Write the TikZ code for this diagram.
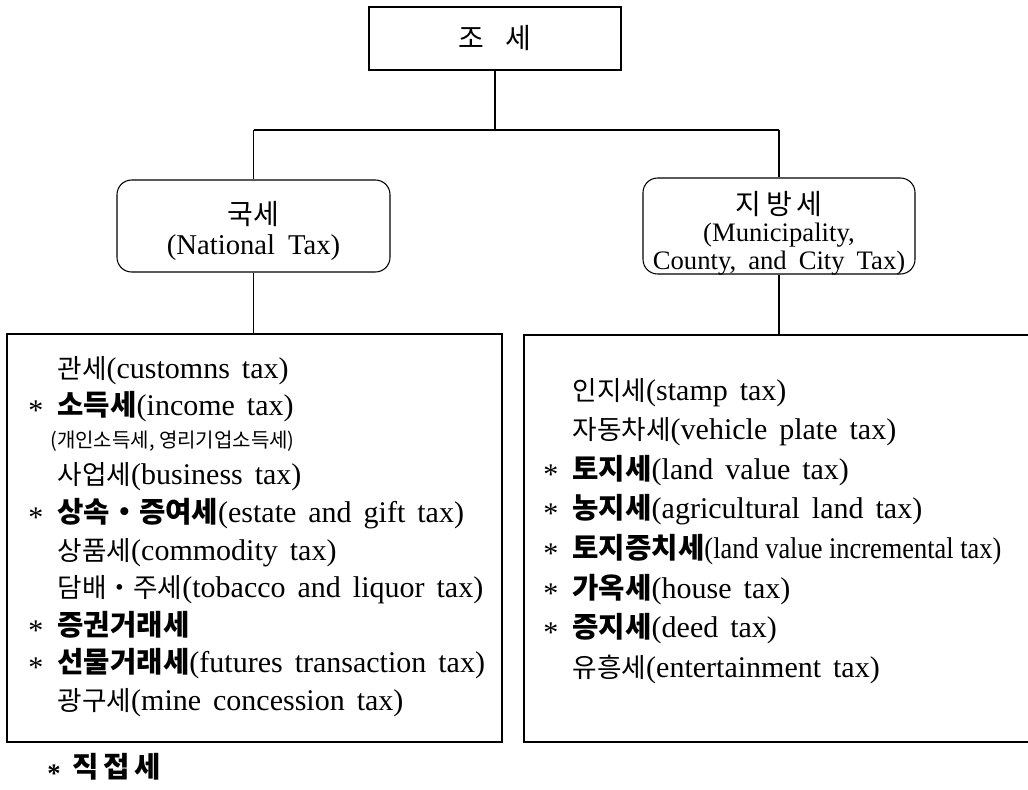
\documentclass[tikz,border=0pt]{standalone}
\usepackage{fontspec}
\usepackage{graphicx}
\setmainfont{Liberation Serif}
\newfontfamily\krfont{Noto Sans CJK KR}
\newcommand\K[1]{{\krfont\fontsize{20}{22}\selectfont #1}}
\newcommand\KB[1]{{\krfont\bfseries\fontsize{21.5}{23}\selectfont #1}}
\newcommand\KS[1]{{\krfont\fontsize{15}{17}\selectfont #1}}
\newcommand\KL[1]{{\krfont\fontsize{21}{22}\selectfont #1}}
\newcommand\mystar{\makebox[22pt][l]{\raisebox{-0.17em}{*}}}
\newcommand\myblank{\hspace*{22pt}}
\newcommand\wsp{\spaceskip=0.4em\relax}
\newcommand\gap{\hspace{0.45em}}
\tikzset{
  box/.style={draw, line width=0.8pt, inner sep=0pt},
  rbox/.style={box, rounded corners=11pt},
  lbl/.style={align=center, inner sep=0pt},
  conn/.style={line width=0.8pt},
  item/.style={anchor=base west, inner sep=0pt, font=\fontsize{22.5}{24}\selectfont},
}
\begin{document}
\begin{tikzpicture}[x=0.75pt,y=-0.75pt]
\useasboundingbox (0,0) rectangle (1028,789);
\clip (0,0) rectangle (1028,789);
\fill[white] (0,0) rectangle (1028,789);

% top box
\node[box, minimum width=189pt, minimum height=47.25pt] (top) at (495,38.5) {\KL{조\hspace{0.75em}세}};

% label boxes
\node[rbox, minimum width=204.75pt, minimum height=69pt] (natl) at (253.5,226) {};
\node[lbl, font=\fontsize{21.5}{22}\selectfont] (natlT) at (253.5,231) {\KL{국세}\\(National\gap Tax)};
\node[rbox, minimum width=204pt, minimum height=72pt] (loc) at (779,226) {};
\node[lbl, font=\fontsize{20}{20.7}\selectfont] (locT) at (779,233) {\KL{지\,방\,세}\\(Municipality,\\County,\gap and\gap City\gap Tax)};

% list boxes
\node[box, minimum width=371.25pt, minimum height=306pt] (natlist) at (254.5,538) {};
\node[box, minimum width=382.5pt, minimum height=305.25pt] (loclist) at (779,538.5) {};

% connectors
\coordinate (barL) at (253.5,130);
\coordinate (barR) at (779,130);
\draw[conn] (top.south) -- (top.south |- barL);
\draw[conn] (barL) -- (barR);
\draw[conn] (barL) -- (natl.north);
\draw[conn] (barR) -- (loc.north);
\draw[conn] (natl.south) -- (natl.south |- natlist.north);
\draw[conn] (loc.south) -- (loc.south |- loclist.north);

% national list
\node[item] (n1) at (28,378) {\wsp\myblank\K{관세}(customns tax)};
\node[item] (n2) at (28,415) {\wsp\mystar\KB{소득세}(income tax)};
\node[item] (n3) at (28,447) {\hspace*{16.5pt}\KS{(개인소득세, 영리기업소득세)}};
\node[item] (n4) at (28,484) {\wsp\myblank\K{사업세}(business tax)};
\node[item] (n5) at (28,522) {\wsp\mystar\KB{상속・증여세}(estate and gift tax)};
\node[item] (n6) at (28,560) {\wsp\myblank\K{상품세}(commodity tax)};
\node[item] (n7) at (28,597) {\wsp\myblank\K{담배・주세}(tobacco and liquor tax)};
\node[item] (n8) at (28,635) {\mystar\KB{증권거래세}};
\node[item] (n9) at (28,672) {\wsp\mystar\KB{선물거래세}(futures transaction tax)};
\node[item] (n10) at (28,710) {\wsp\myblank\K{광구세}(mine concession tax)};

% local list
\node[item] (m1) at (543,400) {\wsp\myblank\K{인지세}(stamp tax)};
\node[item] (m2) at (543,439.6) {\wsp\myblank\K{자동차세}(vehicle plate tax)};
\node[item] (m3) at (543,479.2) {\wsp\mystar\KB{토지세}(land value tax)};
\node[item] (m4) at (543,518.8) {\wsp\mystar\KB{농지세}(agricultural land tax)};
\node[item] (m5) at (543,558.4) {\mystar\KB{토지증치세}\scalebox{0.88}[1]{(land value incremental tax)}};
\node[item] (m6) at (543,598) {\wsp\mystar\KB{가옥세}(house tax)};
\node[item] (m7) at (543,637.6) {\wsp\mystar\KB{증지세}(deed tax)};
\node[item] (m8) at (543,677.2) {\wsp\myblank\K{유흥세}(entertainment tax)};

% footnote
\node[anchor=base west, inner sep=0pt, font=\fontsize{20}{20}\selectfont\bfseries] (foot) at (47,777) {\raisebox{-0.2em}{*}\hspace{0.45em}\KB{직\,접\,세}};
\end{tikzpicture}
\end{document}
